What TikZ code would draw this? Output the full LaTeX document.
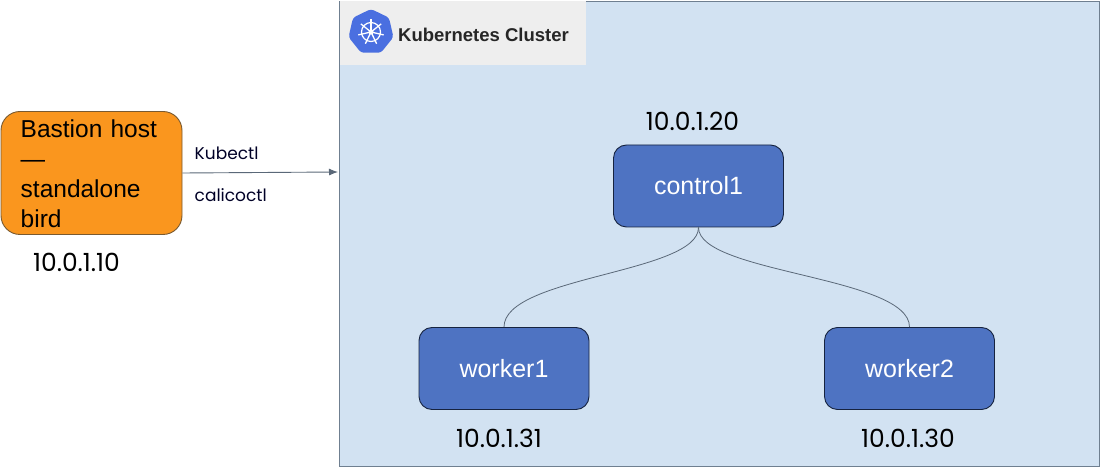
\documentclass[tikz,border=0pt]{standalone}
\usepackage{fontspec}
\usetikzlibrary{shapes.geometric,arrows.meta}
\setmainfont{Liberation Sans}
\newfontfamily\pop{Poppins}
\definecolor{clusterfill}{HTML}{D2E2F2}
\definecolor{clusterline}{HTML}{6F7F90}
\definecolor{nodeblue}{HTML}{4E73C2}
\definecolor{nodeline}{HTML}{16233F}
\definecolor{bastion}{HTML}{FA961E}
\definecolor{bastionline}{HTML}{7A5A30}
\definecolor{wire}{HTML}{5A6878}
\definecolor{logoblue}{HTML}{4A6FE0}
\definecolor{labelbg}{HTML}{EEEEEE}
\tikzset{
  vmbox/.style={draw=nodeline,line width=0.9pt,fill=nodeblue,rounded corners=13pt,minimum width=170pt,minimum height=82pt,text=white,font=\fontsize{25}{29}\selectfont,inner sep=0pt},
  iplabel/.style={font=\pop\fontsize{25}{29}\selectfont,text=black,inner sep=0pt},
  cmdlabel/.style={font=\pop\fontsize{17}{20}\selectfont,text=black!85!blue,inner sep=0pt,anchor=west},
  wirecurve/.style={draw=wire,line width=0.8pt},
}
\begin{document}
\begin{tikzpicture}[x=1pt,y=-1pt]
\useasboundingbox (0,0) rectangle (1100,470);
\node[draw=clusterline,line width=0.9pt,fill=clusterfill,minimum width=760pt,minimum height=465pt,inner sep=0pt] (cluster) at (719,233.5) {};
\node[fill=labelbg,minimum width=246pt,minimum height=64pt,inner sep=0pt] (clusterlabel) at (463,33) {};
\node[fill=logoblue,regular polygon,regular polygon sides=7,minimum size=46pt,inner sep=0pt,rounded corners=3pt] (logo) at (371,32) {};
\draw[white,line width=1.2pt] (logo.center) circle (9.5pt);
\foreach \a in {90,141.4,...,400}{\draw[white,line width=1.3pt] (logo.center) -- ++(\a:13pt);}
\fill[white] (logo.center) circle (2.5pt);
\node[font=\bfseries\fontsize{18.5}{21}\selectfont,text=black!85,inner sep=0pt,anchor=west] (clustertext) at (398,35) {Kubernetes Cluster};
\node[draw=bastionline,line width=0.9pt,fill=bastion,rounded corners=19pt,minimum width=181pt,minimum height=123pt,inner sep=0pt] (bastionbox) at (91.5,173) {};
\node[font=\fontsize{24.5}{30}\selectfont,align=left,inner sep=0pt,anchor=north west,text width=150pt] (bastiontext) at (20.5,120) {Bastion host\\—\\standalone\\bird};
\node[iplabel] (ipb) at (76.5,262) {10.0.1.10};
\node[cmdlabel] (kube) at (194.5,153) {Kubectl};
\node[cmdlabel] (calico) at (194.5,195) {calicoctl};
\coordinate (arrowend) at (338,172);
\draw[draw=wire,line width=0.9pt,-{Latex[length=9pt,width=7pt]}] (bastionbox.east |- 0,173) -- (arrowend);
\node[vmbox] (control) at (698.5,186) {control1};
\node[vmbox] (worker1) at (504,368.5) {worker1};
\node[vmbox] (worker2) at (909.5,368.5) {worker2};
\node[iplabel] (ipc) at (692.5,121) {10.0.1.20};
\node[iplabel] (ipw1) at (499,438) {10.0.1.31};
\node[iplabel] (ipw2) at (908,438) {10.0.1.30};
\draw[wirecurve] (control.south) .. controls +(0,46) and +(0,-51) .. (worker1.north);
\draw[wirecurve] (control.south) .. controls +(0,46) and +(0,-51) .. (worker2.north);
\end{tikzpicture}
\end{document}
